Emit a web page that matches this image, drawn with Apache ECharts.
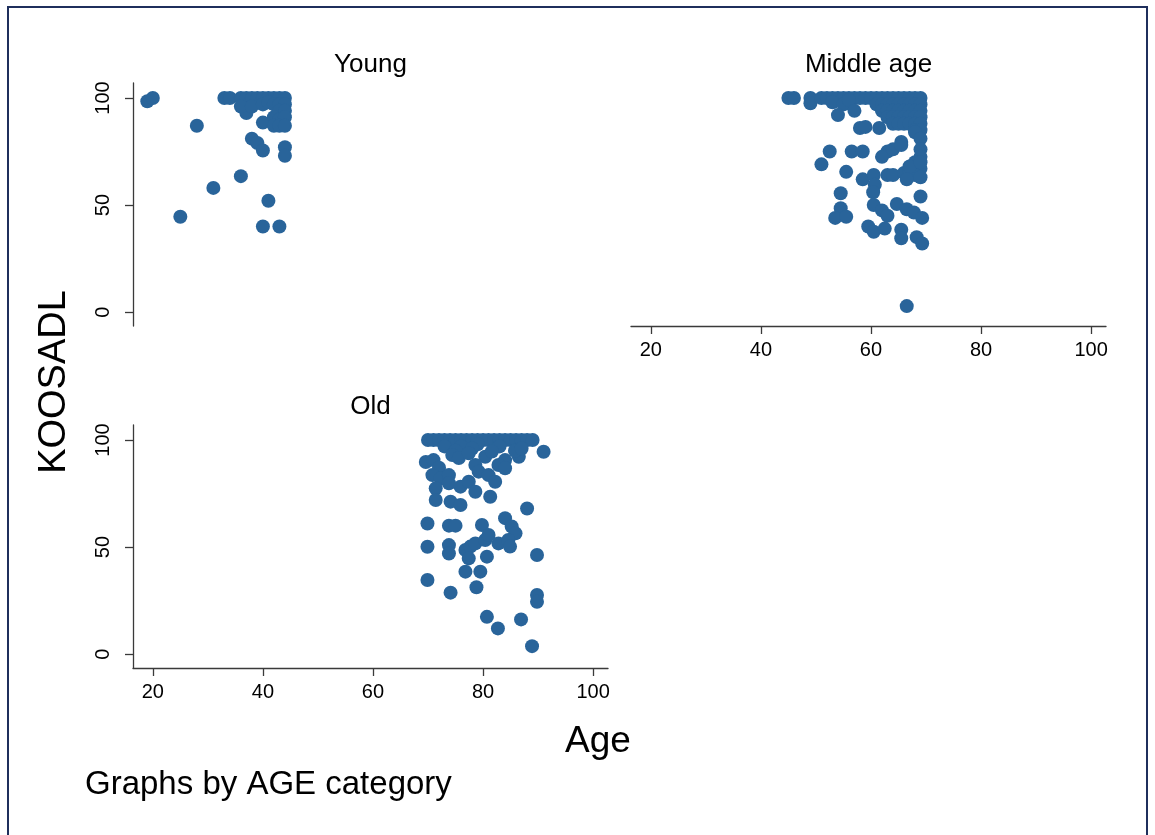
<!DOCTYPE html>
<html>
<head>
<meta charset="utf-8">
<script src="https://cdn.jsdelivr.net/npm/echarts@6/dist/echarts.min.js"></script>
<style>
  html, body { margin: 0; padding: 0; background: #fff; }
  #chart { width: 1155px; height: 835px; }
</style>
</head>
<body>
<div id="chart"></div>
<script>
// Panel names, in drawing order
const panelTitles = ['Young', 'Middle age', 'Old'];
const xTicks = [20, 40, 60, 80, 100];
const yTicks = [0, 50, 100];

// [Age, KOOSADL] pairs for each age category
const youngData = [
  [19, 98.5], [20, 100], [28, 87], [25, 44.5], [31, 58], [36, 63.5], [41, 52],
  [40, 40], [43, 40], [40, 88.5], [38, 81], [39, 79], [40, 75.5], [44, 77], [44, 73],
  [37, 93], [33, 100], [34, 100],
  [36, 100], [37, 100], [38, 100], [39, 100], [40, 100], [41, 100], [42, 100], [43, 100], [44, 100],
  [36, 96], [38, 96], [40, 97], [41, 98], [42, 97], [43, 97], [44, 97],
  [43, 94], [44, 94], [42, 91], [43, 90], [44, 91], [42, 87], [43, 87], [44, 87]
];

const middleData = [
  [45, 100], [46, 100], [49, 100], [49, 97.5],
  [51, 100], [52, 100], [53, 100], [54, 100], [55, 100], [56, 100], [57, 100], [58, 100],
  [59, 100], [60, 100], [61, 100], [62, 100], [63, 100], [64, 100], [65, 100], [66, 100],
  [67, 100], [68, 100], [69, 100],
  [53, 98], [55, 97], [56, 99], [54, 92], [57, 94], [58, 86], [59, 86.5], [61.5, 86],
  [61, 97], [62, 97], [63, 97], [64, 97], [65, 97], [66, 97], [67, 97], [68, 97], [69, 97],
  [62, 94], [63, 94], [64, 94], [65, 94], [66, 94], [67, 94], [68, 94], [69, 94],
  [63, 91], [64, 91], [65, 91], [66, 91], [67, 91], [68, 91], [69, 91],
  [64, 88], [65, 88], [66, 88], [67, 88], [68, 88], [69, 88],
  [68, 85], [69, 85], [68, 84],
  [65.5, 79.5], [69, 81], [69, 76], [69, 72.5], [63, 75], [62, 72.5], [64, 76], [65.5, 78],
  [52.5, 75], [51, 69], [56.5, 75], [58.5, 75], [55.5, 65.5], [58.5, 62], [60.5, 64],
  [60.7, 59.5], [60.4, 56], [63, 64], [64, 64],
  [66, 65], [67, 66], [68, 70], [69, 67], [68, 64], [69, 63], [67, 68], [66.5, 62], [69, 70],
  [69, 54], [54.5, 55.5], [54.5, 48.5], [53.5, 44], [55.5, 44.5], [60.5, 50], [62, 47.5],
  [63, 45], [64.7, 50.5], [66.5, 48], [67.8, 46.5], [69.3, 44], [59.5, 40], [60.5, 37.5],
  [62.5, 39], [65.5, 38.5], [65.5, 34.5], [68.3, 35], [69.3, 32], [66.5, 2.8]
];

const oldData = [
  [70, 100], [71, 100], [72, 100], [73, 100], [74, 100], [75, 100], [76, 100], [77, 100],
  [78, 100], [79, 100], [80, 100], [81, 100], [82, 100], [83, 100], [84, 100], [85, 100],
  [86, 100], [87, 100], [88, 100], [89, 100],
  [73, 97], [76, 97], [79, 98], [83, 97], [75, 95], [78, 96],
  [91, 94.5], [69.6, 89.7], [71, 90.6], [72, 87], [74.4, 93], [75.6, 91.6], [77.4, 93.8],
  [80.4, 92.2], [81.6, 94.6], [84, 90.6], [86.5, 92.2], [85.8, 95], [87, 96],
  [70.8, 83.6], [72.3, 82], [73.8, 83.6], [73.8, 79.8], [78.6, 88.3], [79.2, 85.2], [81, 83.6],
  [82.2, 80.5], [82.8, 88.3], [84, 86.8], [71.4, 77.4], [71.4, 72], [75.9, 78.2], [77.4, 80.5],
  [78.6, 75.8], [74.1, 71.2], [75.9, 69.6], [81.3, 73.5], [88, 68],
  [69.9, 61], [73.8, 60], [75, 60], [79.8, 60.3], [84, 63.5], [85.2, 59.6], [85.9, 56.4],
  [69.9, 50.1], [73.8, 50.9], [73.8, 47], [76.8, 48.6], [77.7, 50.2], [78.6, 51.7], [80.4, 53.3],
  [81, 55.6], [82.8, 51.7], [84.6, 53.3], [84.9, 50.2], [77.4, 44.7], [80.7, 45.5],
  [76.8, 38.5], [79.5, 38.5], [89.8, 46.3], [69.9, 34.6], [74.1, 28.7], [78.8, 31.2],
  [89.8, 27.6], [89.8, 24.4], [80.7, 17.4], [82.7, 12], [86.9, 16.2], [88.9, 3.7]
];

const FONT = '"Liberation Sans", Arial, Helvetica, sans-serif';
const MARK = '#29649a';
const AXIS = '#3a3a3a';

const X_MIN = 16.4, X_MAX = 102.7;
const Y_MIN = -6.5, Y_MAX = 107;

const grids = [
  { left: 133, top: 83, width: 475, height: 243 },
  { left: 631, top: 83, width: 475, height: 243 },
  { left: 133, top: 425, width: 475, height: 243 }
];
// which panels carry a visible x / y axis
const showX = [false, true, true];
const showY = [true, false, true];

function xAxisFor(i) {
  return {
    gridIndex: i, type: 'value', min: X_MIN, max: X_MAX, show: showX[i],
    splitLine: { show: false },
    axisLine: { show: true, onZero: false, lineStyle: { color: AXIS, width: 1.3 } },
    axisTick: { show: true, length: 8, lineStyle: { color: AXIS, width: 1.3 },
      customValues: xTicks },
    axisLabel: { show: true, customValues: xTicks, margin: 14, fontSize: 20,
      color: '#000', fontFamily: FONT }
  };
}
function yAxisFor(i) {
  return {
    gridIndex: i, type: 'value', min: Y_MIN, max: Y_MAX, show: showY[i],
    splitLine: { show: false },
    axisLine: { show: true, onZero: false, lineStyle: { color: AXIS, width: 1.3 } },
    axisTick: { show: true, length: 8, lineStyle: { color: AXIS, width: 1.3 },
      customValues: yTicks },
    axisLabel: { show: true, customValues: yTicks, rotate: 90, margin: 20, fontSize: 20,
      color: '#000', fontFamily: FONT }
  };
}

const seriesData = [youngData, middleData, oldData];

const titleTexts = panelTitles.map((t, i) => ({
  type: 'text',
  x: grids[i].left + grids[i].width / 2,
  y: grids[i].top - 18,
  style: { text: t, font: '26px ' + FONT, fill: '#000', textAlign: 'center', textVerticalAlign: 'middle' }
}));

const chart = echarts.init(document.getElementById('chart'), null, { renderer: 'canvas' });
chart.setOption({
  backgroundColor: '#fff',
  animation: false,
  grid: grids.map(g => Object.assign({ containLabel: false }, g)),
  xAxis: [0, 1, 2].map(xAxisFor),
  yAxis: [0, 1, 2].map(yAxisFor),
  series: seriesData.map((d, i) => ({
    type: 'scatter', xAxisIndex: i, yAxisIndex: i, data: d,
    symbol: 'circle', symbolSize: 14,
    itemStyle: { color: MARK, opacity: 1 }
  })),
  graphic: [
    {
      type: 'rect', shape: { x: 8, y: 7, width: 1139, height: 840 },
      style: { fill: 'none', stroke: '#1f2f5c', lineWidth: 2 }, silent: true
    },
    ...titleTexts,
    {
      type: 'text', x: 55, y: 382, rotation: Math.PI / 2,
      style: { text: 'KOOSADL', font: '38px ' + FONT, fill: '#000', textAlign: 'center', textVerticalAlign: 'middle' }
    },
    {
      type: 'text', x: 598, y: 742,
      style: { text: 'Age', font: '37px ' + FONT, fill: '#000', textAlign: 'center', textVerticalAlign: 'middle' }
    },
    {
      type: 'text', x: 85, y: 785,
      style: { text: 'Graphs by AGE category', font: '33px ' + FONT, fill: '#000', textAlign: 'left', textVerticalAlign: 'middle' }
    }
  ]
});
</script>
</body>
</html>
